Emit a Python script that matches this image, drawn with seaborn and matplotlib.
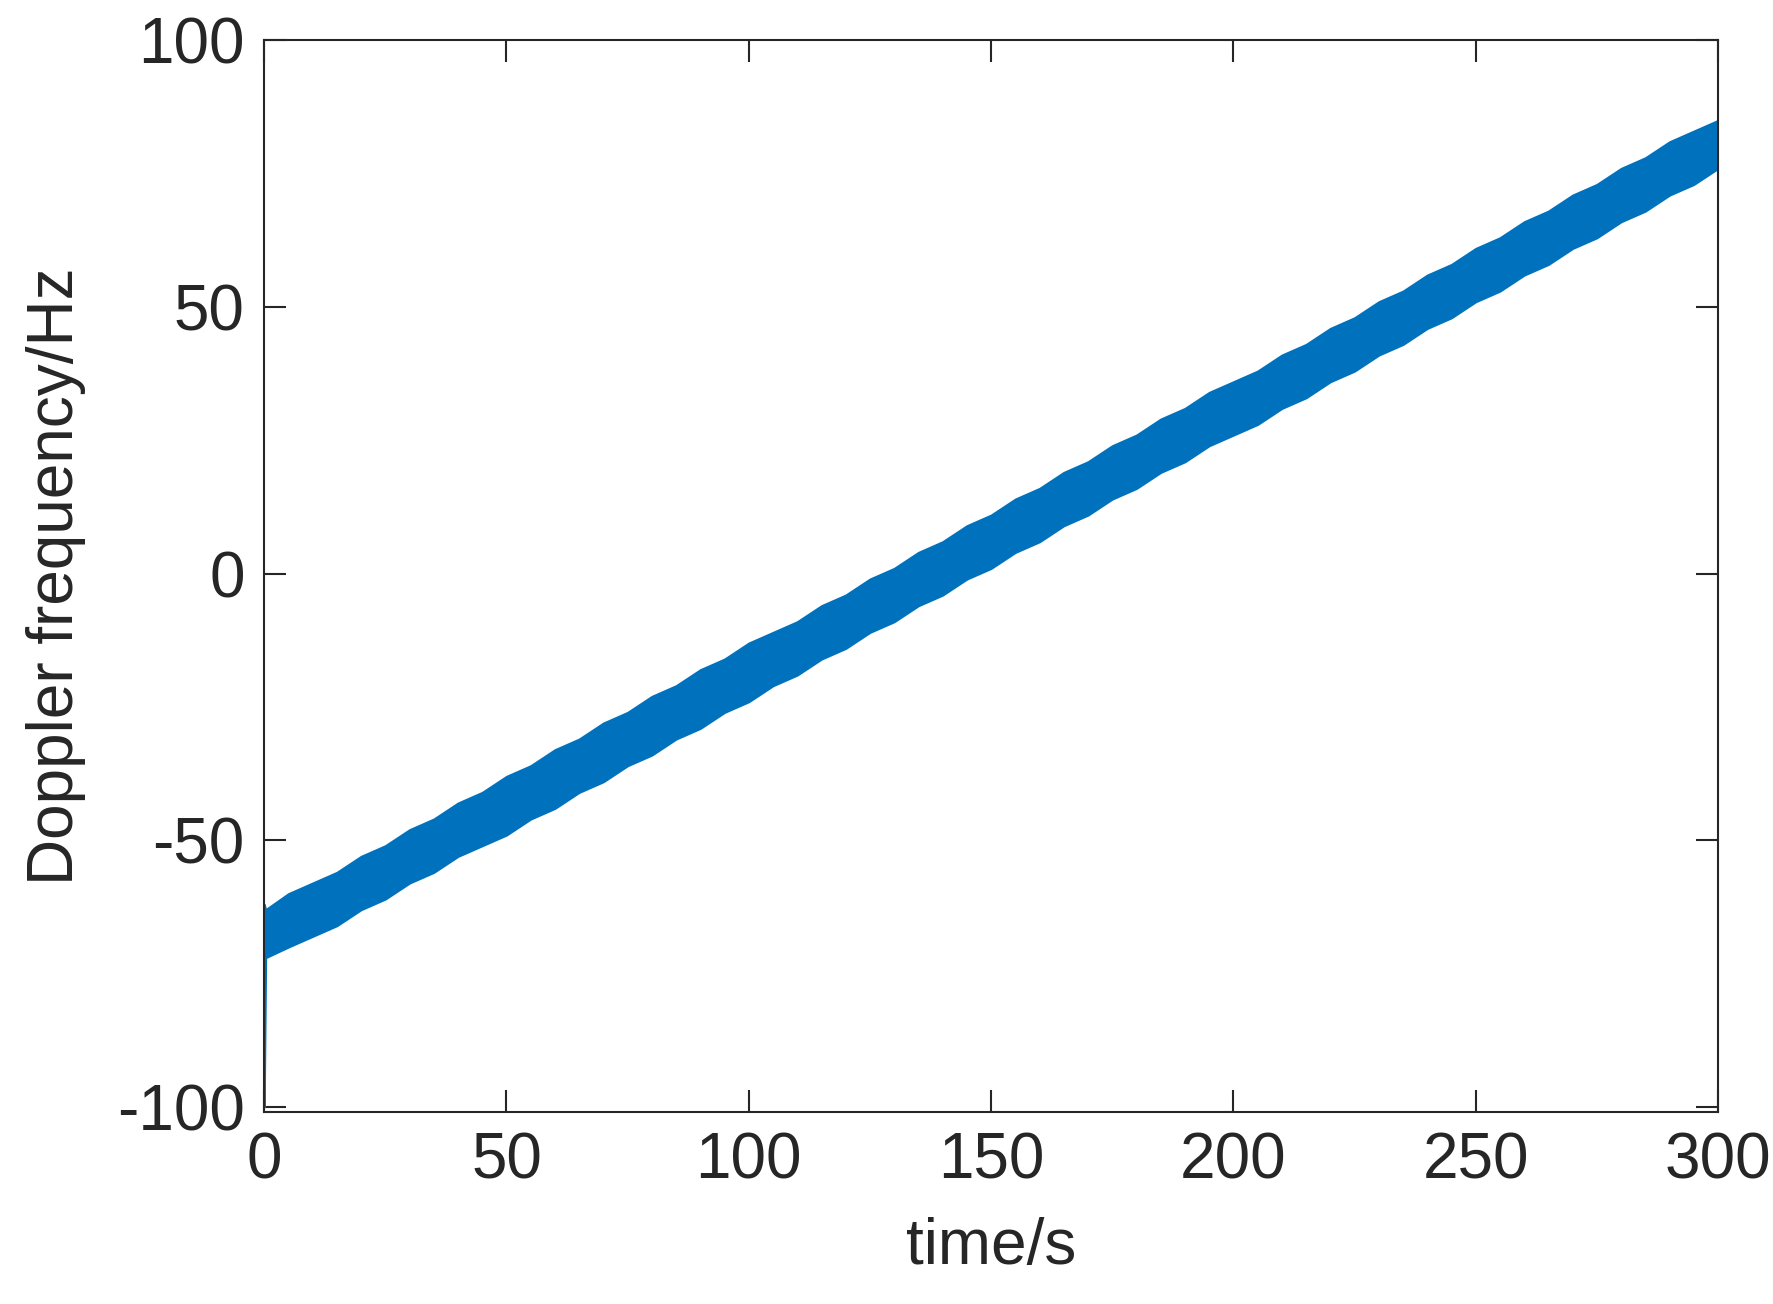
import matplotlib
matplotlib.use("Agg")
import matplotlib.pyplot as plt
import seaborn as sns

sns.set_theme(style="white")
plt.rcParams['font.family'] = ['Liberation Sans', 'DejaVu Sans']
plt.rcParams['axes.unicode_minus'] = False

# envelope of the noisy Doppler measurement, read at ~10 s steps
time_s = [0, 0.3, 5, 10, 15, 20, 25, 30, 35, 40, 45, 50, 55, 60, 65, 70, 75, 80, 85, 90, 95,
          100, 105, 110, 115, 120, 125, 130, 135, 140, 145, 150, 155, 160, 165, 170, 175,
          180, 185, 190, 195, 200, 205, 210, 215, 220, 225, 230, 235, 240, 245, 250, 255,
          260, 265, 270, 275, 280, 285, 290, 295, 300]
upper_hz = [-62, -63, -60, -58, -56, -53, -51, -48, -46, -43, -41, -38, -36, -33, -31, -28,
            -26, -23, -21, -18, -16, -13, -11, -9, -6, -4, -1, 1, 4, 6, 9, 11, 14, 16, 19, 21,
            24, 26, 29, 31, 34, 36, 38, 41, 43, 46, 48, 51, 53, 56, 58, 61, 63, 66, 68, 71,
            73, 76, 78, 81, 83, 85]
lower_hz = [-100, -72, -70, -68, -66, -63, -61, -58, -56, -53, -51, -49, -46, -44, -41, -39,
            -36, -34, -31, -29, -26, -24, -21, -19, -16, -14, -11, -9, -6, -4, -1, 1, 4, 6, 9,
            11, 14, 16, 19, 21, 24, 26, 28, 31, 33, 36, 38, 41, 43, 46, 48, 51, 53, 56, 58,
            61, 63, 66, 68, 71, 73, 76]
xticks = [0, 50, 100, 150, 200, 250, 300]
yticks = [-100, -50, 0, 50, 100]

color = "#0072BD"
fig = plt.figure(figsize=(17.73, 13.04), dpi=100)
ax = fig.add_axes([0.149, 0.147, 0.82, 0.822])
ax.fill_between(time_s, lower_hz, upper_hz, color=color, linewidth=1.5, edgecolor=color)
sns.lineplot(x=time_s, y=[(u + l) / 2 for u, l in zip(upper_hz, lower_hz)], ax=ax,
             color=color, linewidth=1)
ax.set_xlim(0, 300)
ax.set_ylim(-101, 100)
ax.set_xticks(xticks)
ax.set_yticks(yticks)
ax.tick_params(labelsize=46, direction="in", length=16, width=1.5, top=True, right=True,
               bottom=True, left=True, colors="#262626", pad=14)
for s in ax.spines.values():
    s.set_linewidth(1.5)
    s.set_color("#262626")
ax.set_xlabel("time/s", fontsize=46, color="#262626", labelpad=18)
ax.set_ylabel("Doppler frequency/Hz", fontsize=46, color="#262626", labelpad=22)
fig.savefig("out.png", dpi=100)
